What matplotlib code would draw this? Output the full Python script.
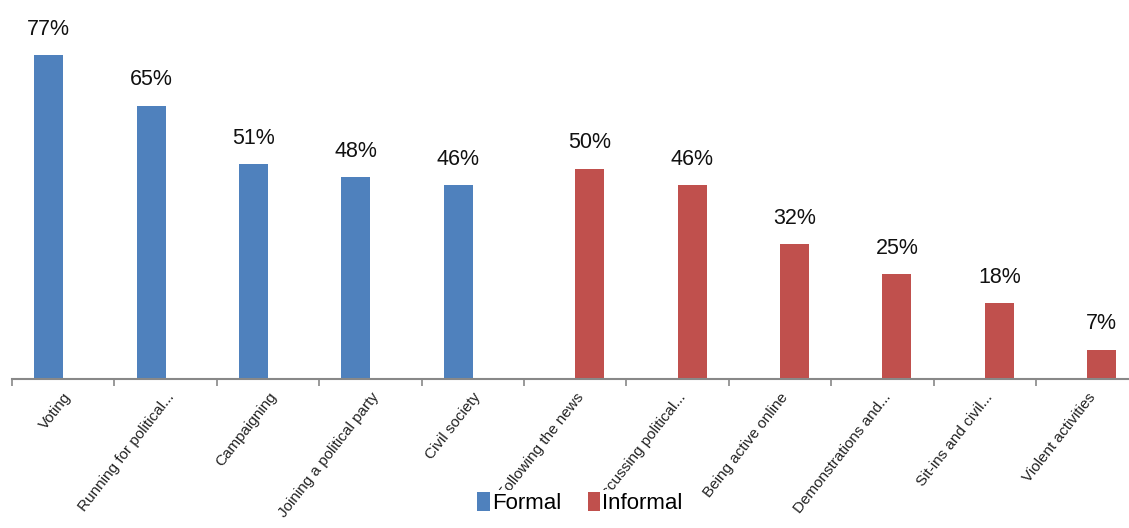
import matplotlib.pyplot as plt

# data
categories = ['Voting', 'Running for political...', 'Campaigning',
              'Joining a political party', 'Civil society', 'Following the news',
              'Discussing political...', 'Being active online',
              'Demonstrations and...', 'Sit-ins and civil...', 'Violent activities']
formal = [77, 65, 51, 48, 46, 0, 0, 0, 0, 0, 0]
informal = [0, 0, 0, 0, 0, 50, 46, 32, 25, 18, 7]

blue = '#4F81BD'
red = '#C0504D'
plt.rcParams['font.family'] = ['Liberation Sans', 'DejaVu Sans']

fig = plt.figure(figsize=(11.29, 5.28), dpi=100)
ax = fig.add_axes([12 / 1129, 149 / 528, 1126.4 / 1129, 336.6 / 528])

n = len(categories)
centers = [i + 0.5 for i in range(n)]
width = 0.283
off = 0.1416

b1 = ax.bar([c - off for c in centers], formal, width, color=blue, label='Formal')
b2 = ax.bar([c + off for c in centers], informal, width, color=red, label='Informal')

# value labels above bars
for bars, vals in ((b1, formal), (b2, informal)):
    for rect, v in zip(bars, vals):
        if v > 0:
            ax.annotate(f'{v}%', (rect.get_x() + rect.get_width() / 2, v),
                        xytext=(0, 11), textcoords='offset points',
                        ha='center', va='bottom', fontsize=15.5, color='#111111',
                        annotation_clip=False)

ax.set_xlim(0, n)
ax.set_ylim(0, 80)
ax.set_yticks([])
for s in ('top', 'right', 'left'):
    ax.spines[s].set_visible(False)
ax.spines['bottom'].set_color('#888888')
ax.spines['bottom'].set_linewidth(1.5)

ax.set_xticks(centers)
ax.set_xticklabels(categories, rotation=52, ha='right', va='top',
                   rotation_mode='anchor', fontsize=11, color='#222222')
ax.tick_params(axis='x', which='major', length=0, pad=8)
ax.set_xticks(list(range(n + 1)), minor=True)
ax.tick_params(axis='x', which='minor', length=5, width=1.2, color='#888888')

leg = ax.legend(loc='center', bbox_to_anchor=(580 / 1129, 1 - 503 / 528),
                bbox_transform=fig.transFigure, ncol=2, fontsize=16,
                frameon=True, framealpha=1, facecolor='white', edgecolor='none',
                handlelength=0.55, handleheight=0.9, handletextpad=0.1,
                columnspacing=1.2, borderpad=0.1, borderaxespad=0)
leg.set_zorder(10)

fig.savefig('out.png', dpi=100)
